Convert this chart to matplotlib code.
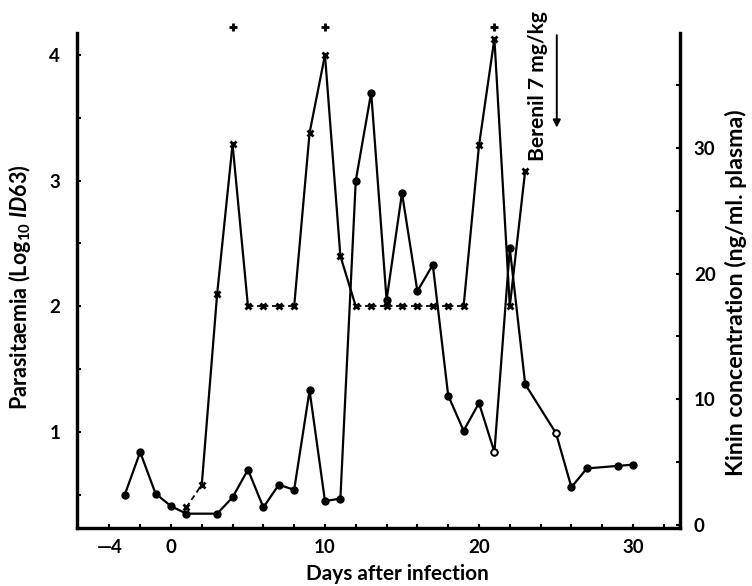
import matplotlib
matplotlib.use("Agg")
import matplotlib.pyplot as plt

plt.rcParams['font.family'] = ['Lato', 'DejaVu Sans']
plt.rcParams['font.weight'] = 'bold'
plt.rcParams['mathtext.fontset'] = 'custom'
plt.rcParams['mathtext.rm'] = 'Lato:bold'
plt.rcParams['mathtext.it'] = 'Lato:italic:bold'
plt.rcParams['mathtext.bf'] = 'Lato:bold'

# Parasitaemia (log10 ID63), x markers, left axis
par_days = [1, 2, 3, 4, 5, 6, 7, 8, 9, 10, 11, 12, 13, 14, 15, 16, 17, 18, 19, 20, 21, 22, 23]
par_vals = [0.40, 0.58, 2.10, 3.29, 2.0, 2.0, 2.0, 2.0, 3.38, 4.0, 2.40, 2.0, 2.0, 2.0,
            2.0, 2.0, 2.0, 2.0, 2.0, 3.28, 4.13, 2.0, 3.08]
# segment i joins point i and i+1; True = dashed (below detection)
par_dashed = [True, False, False, False, True, True, True, False, False, False, False,
              True, True, True, True, True, True, True, False, False, False, False]

# '+' marks above the axis
plus_days = [4, 10, 21]
plus_val = 4.22

# Kinin concentration (ng/ml plasma), dots, right axis
kin_days = [-3, -2, -1, 0, 1, 3, 4, 5, 6, 7, 8, 9, 10, 11, 12, 13, 14, 15, 16, 17,
            18, 19, 20, 21, 22, 23, 25, 26, 27, 29, 30]
kin_vals = [2.4, 5.8, 2.5, 1.5, 0.9, 0.9, 2.2, 4.4, 1.4, 3.2, 2.8, 10.7, 1.9, 2.1,
            27.4, 34.4, 17.9, 26.4, 18.6, 20.7, 10.3, 7.5, 9.7, 5.8, 22.0, 11.2,
            7.3, 3.0, 4.5, 4.7, 4.8]
kin_open_days = [21, 25]

x_ticks = [-4, 0, 10, 20, 30]
x_ticklabels = ['—4', '0', '10', '20', '30']
left_ticks = [1, 2, 3, 4]
right_ticks = [0, 10, 20, 30]

fig = plt.figure(figsize=(7.52, 5.86), dpi=100)
ax = fig.add_axes([77/752, 58/586, 603/752, 495/586])
ax2 = ax.twinx()

ax.set_xlim(-6.1, 33.05)
ax.set_ylim(0.236, 4.175)
ax2.set_ylim(-0.24, 39.14)

lw = 1.6
# parasitaemia segments
for i in range(len(par_days) - 1):
    ax.plot(par_days[i:i+2], par_vals[i:i+2], color='black', lw=lw if not par_dashed[i] else 1.3,
            ls=(0, (3, 2)) if par_dashed[i] else '-', solid_capstyle='round')
ax.plot(par_days, par_vals, ls='none', marker='x', ms=4.5, mew=2, color='black')
ax.plot(plus_days, [plus_val]*len(plus_days), ls='none', marker='+', ms=6, mew=2,
        color='black', clip_on=False)

ax2.plot(kin_days, kin_vals, color='black', lw=lw, marker='o', ms=5)
open_vals = [kin_vals[kin_days.index(d)] for d in kin_open_days]
ax2.plot(kin_open_days, open_vals, ls='none', marker='o', ms=4.5, mfc='white',
         mec='black', mew=1.2)

# spines
for a in (ax, ax2):
    a.spines['top'].set_visible(False)
    for s in ('left', 'right', 'bottom'):
        a.spines[s].set_linewidth(2.3)

ax.set_xticks(x_ticks)
ax.set_xticklabels(x_ticklabels)
ax.set_xticks(list(range(-4, 33, 2)), minor=True)
ax.set_yticks(left_ticks)
ax.set_yticks([0.5, 1.5, 2.5, 3.5], minor=True)
ax2.set_yticks(right_ticks)
ax2.set_yticks([5, 15, 25, 35], minor=True)

ax.tick_params(axis='both', which='both', direction='in', length=3, width=1.5, labelsize=13.5)
ax.tick_params(axis='x', pad=8)
ax.tick_params(axis='y', pad=12)
ax2.tick_params(axis='y', which='both', direction='in', length=3, width=1.5, labelsize=13.5, pad=10)

xl = ax.set_xlabel('Days after infection', fontsize=15, fontweight='bold')
ax.xaxis.set_label_coords(0.532, -0.073)
yl = ax.set_ylabel(r'Parasitaemia (Log$_{10}$ $\mathit{ID63}$)', fontsize=14, fontweight='bold')
ax.yaxis.set_label_coords(-0.073, 0.487)
yr = ax2.set_ylabel('Kinin concentration (ng/ml. plasma)', fontsize=14, fontweight='bold')
ax2.yaxis.set_label_coords(1.075, 0.475)

# Berenil annotation
bt = ax.text(23.8, 4.35, 'Berenil 7 mg/kg', rotation=90, ha='center', va='top',
             fontsize=15, fontweight='bold', clip_on=False)
ax.annotate('', xy=(25.05, 3.40), xytext=(25.05, 4.18),
            arrowprops=dict(arrowstyle='-|>', color='black', lw=1.4, mutation_scale=11),
            annotation_clip=False)

# scale text sizes to the lengths measured on the reference (pixels)
fig.canvas.draw()
renderer = fig.canvas.get_renderer()
for t, target, vertical in ((xl, 183, False), (yl, 247, True), (yr, 370, True), (bt, 150, True)):
    bb = t.get_window_extent(renderer)
    cur = bb.height if vertical else bb.width
    if cur > 0:
        t.set_fontsize(t.get_fontsize() * target / cur)

fig.savefig('out.png', dpi=100)
